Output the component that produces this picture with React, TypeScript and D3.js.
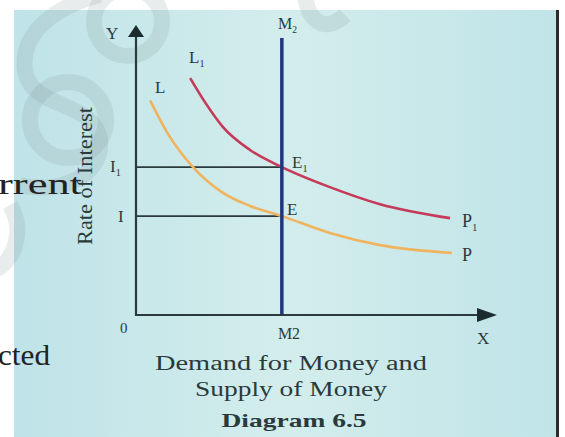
import { useRef, useEffect } from 'react';
import * as d3 from 'd3';

// Chart values (arbitrary units: x = quantity of money, y = rate of interest)
const demandL = [
  [3.9, 74], [8.6, 63], [15.8, 51], [24.1, 42.1], [31.6, 37.6], [40.4, 34.1],
  [53.7, 28.3], [67.6, 24.1], [87.5, 21.4],
];
const demandL1 = [
  [15.0, 81.7], [19.1, 73.4], [24.1, 64.8], [31.6, 56.9], [40.4, 51.0],
  [53.7, 44.1], [67.6, 38.2], [87.0, 33.4],
];
const moneySupply = 40.4;
const rateI1 = 51.0;
const rateI = 34.1;
const supplyTop = 95.5;
const titleLines = ['Demand for Money and', 'Supply of Money'];
const diagramLabel = 'Diagram 6.5';

const W = 565;
const H = 437;
const SERIF = '"Liberation Serif", "DejaVu Serif", serif';
const INK = '#2a3a3c';

export default function App() {
  const svgRef = useRef<SVGSVGElement>(null);

  useEffect(() => {
    const svg = d3.select(svgRef.current);
    svg.selectAll('*').remove();

    const x = d3.scaleLinear().domain([0, 100]).range([136, 497]);
    const y = d3.scaleLinear().domain([0, 100]).range([315, 25]);

    // background panel
    const defs = svg.append('defs');
    const grad = defs.append('linearGradient').attr('id', 'bg').attr('x1', 0).attr('x2', 1).attr('y1', 0).attr('y2', 0);
    grad.append('stop').attr('offset', '0%').attr('stop-color', '#bfe3e8');
    grad.append('stop').attr('offset', '50%').attr('stop-color', '#d3edec');
    grad.append('stop').attr('offset', '100%').attr('stop-color', '#c0e4e8');

    svg.append('rect').attr('width', W).attr('height', H).attr('fill', '#fff');
    svg.append('rect').attr('x', 14).attr('y', 10).attr('width', 543).attr('height', H - 10).attr('fill', 'url(#bg)');
    svg.append('rect').attr('x', 556).attr('y', 10).attr('width', 3).attr('height', H - 10).attr('fill', '#2b2b2b');

    // faint watermark strokes
    const wm = svg.append('g').attr('fill', 'none').attr('stroke', '#7f8c8f').attr('stroke-opacity', 0.17).attr('stroke-width', 16);
    wm.append('path').attr('d', 'M100,-5 C60,5 20,30 25,70 C30,110 95,100 100,140 C104,175 60,195 20,185');
    wm.append('circle').attr('cx', 128).attr('cy', 22).attr('r', 34);
    wm.append('circle').attr('cx', 68).attr('cy', 120).attr('r', 38);
    wm.append('path').attr('d', 'M305,-10 C305,20 325,35 345,15');
    wm.append('path').attr('d', 'M10,205 C25,230 15,260 -5,270');

    // left page text (cut off at the edge, as in the source)
    svg.append('text').attr('x', 82).attr('y', 194).attr('text-anchor', 'end')
      .attr('font-family', SERIF).attr('font-size', 30).attr('fill', '#222')
      .attr('textLength', 84).attr('lengthAdjust', 'spacingAndGlyphs').text('rrent');
    svg.append('text').attr('x', 50).attr('y', 365).attr('text-anchor', 'end')
      .attr('font-family', SERIF).attr('font-size', 30).attr('fill', '#222')
      .attr('textLength', 52).attr('lengthAdjust', 'spacingAndGlyphs').text('cted');

    // guide lines
    svg.append('line').attr('x1', x(0)).attr('x2', x(moneySupply)).attr('y1', y(rateI1)).attr('y2', y(rateI1))
      .attr('stroke', INK).attr('stroke-width', 1.6);
    svg.append('line').attr('x1', x(0)).attr('x2', x(moneySupply)).attr('y1', y(rateI)).attr('y2', y(rateI))
      .attr('stroke', INK).attr('stroke-width', 1.6);

    // curves
    const line = d3.line<number[]>()
      .x(function (d) { return x(d[0]); })
      .y(function (d) { return y(d[1]); })
      .curve(d3.curveMonotoneX);

    svg.append('path').attr('d', line(demandL)).attr('fill', 'none')
      .attr('stroke', '#f0b35e').attr('stroke-width', 2.6);
    svg.append('path').attr('d', line(demandL1)).attr('fill', 'none')
      .attr('stroke', '#c43a58').attr('stroke-width', 2.6);

    // money supply
    svg.append('line').attr('x1', x(moneySupply)).attr('x2', x(moneySupply))
      .attr('y1', y(0)).attr('y2', y(supplyTop))
      .attr('stroke', '#1f3580').attr('stroke-width', 3.5);

    // axes
    const ax = svg.append('g');
    ax.append('line').attr('x1', x(0)).attr('x2', x(0)).attr('y1', y(0) + 1).attr('y2', y(96))
      .attr('stroke', INK).attr('stroke-width', 2.2);
    ax.append('line').attr('x1', x(0) - 1).attr('x2', x(96)).attr('y1', y(0)).attr('y2', y(0))
      .attr('stroke', INK).attr('stroke-width', 2.2);
    ax.append('path')
      .attr('d', 'M' + x(0) + ',' + y(100) + ' L' + (x(0) + 8) + ',' + (y(100) + 12) + ' L' + (x(0) - 8) + ',' + (y(100) + 12) + ' Z')
      .attr('fill', '#1c2c2e');
    ax.append('path')
      .attr('d', 'M' + x(100) + ',' + y(0) + ' L' + (x(100) - 20) + ',' + (y(0) - 7) + ' L' + (x(100) - 20) + ',' + (y(0) + 7) + ' Z')
      .attr('fill', '#1c2c2e');

    const label = function (px: number, py: number, main: string, sub: string, size: number, anchor: string) {
      const t = svg.append('text').attr('x', px).attr('y', py).attr('text-anchor', anchor)
        .attr('font-family', SERIF).attr('font-size', size).attr('fill', INK);
      t.append('tspan').text(main);
      if (sub) t.append('tspan').attr('font-size', size * 0.6).attr('dy', 4).text(sub);
      return t;
    };

    label(106, 39, 'Y', '', 17, 'start');
    label(477, 344, 'X', '', 17, 'start');
    label(120, 333, '0', '', 15, 'start');
    label(289, 339, 'M2', '', 16, 'middle');
    label(278, 29, 'M', '2', 16, 'start');
    label(110, 172, 'I', '1', 17, 'start');
    label(118, 222, 'I', '', 17, 'start');
    label(189, 63, 'L', '1', 17, 'start');
    label(155, 93, 'L', '', 17, 'start');
    label(292, 168, 'E', '1', 17, 'start');
    label(287, 215, 'E', '', 17, 'start');
    label(462, 227, 'P', '1', 18, 'start');
    label(462, 261, 'P', '', 18, 'start');

    // y-axis title
    svg.append('text')
      .attr('transform', 'translate(92,176) rotate(-90)')
      .attr('text-anchor', 'middle')
      .attr('font-family', SERIF).attr('font-size', 21).attr('fill', INK)
      .attr('textLength', 138).attr('lengthAdjust', 'spacingAndGlyphs')
      .text('Rate of Interest');

    // caption
    const widths = [272, 192];
    titleLines.forEach(function (s, i) {
      svg.append('text').attr('x', 291).attr('y', 370 + i * 26).attr('text-anchor', 'middle')
        .attr('font-family', SERIF).attr('font-size', 20).attr('fill', INK)
        .attr('textLength', widths[i]).attr('lengthAdjust', 'spacingAndGlyphs').text(s);
    });
    svg.append('text').attr('x', 294).attr('y', 427).attr('text-anchor', 'middle')
      .attr('font-family', SERIF).attr('font-size', 19).attr('font-weight', 'bold').attr('fill', INK)
      .attr('textLength', 145).attr('lengthAdjust', 'spacingAndGlyphs').text(diagramLabel);
  }, []);

  return (
    <svg
      ref={svgRef}
      width={W}
      height={H}
      style={{ position: 'absolute', left: 0, top: 0 }}
    />
  );
}
